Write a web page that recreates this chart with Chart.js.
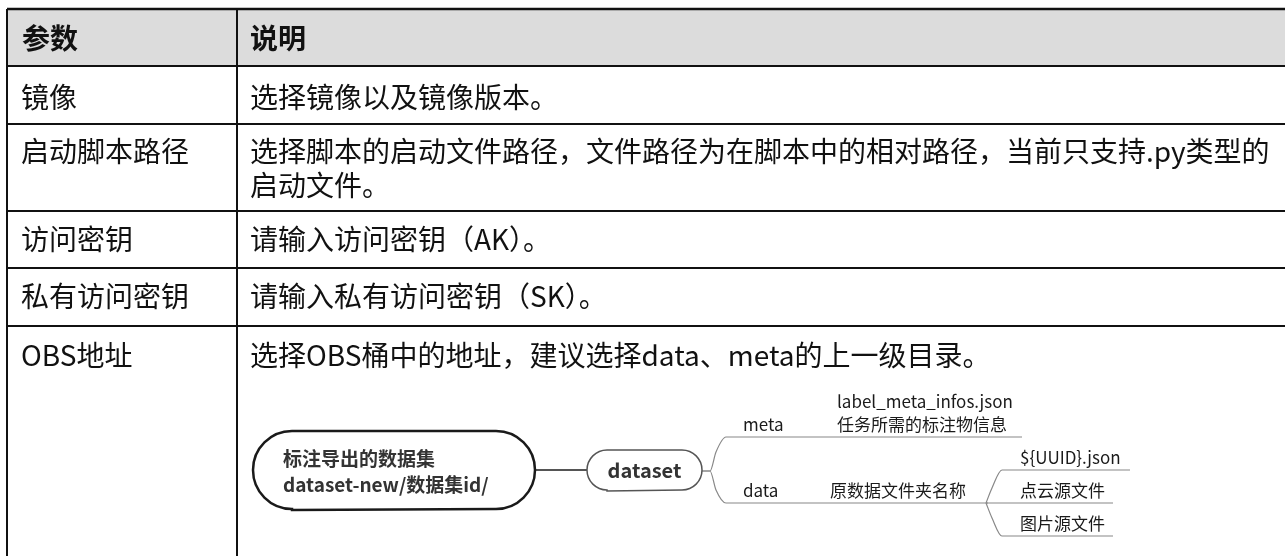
<!DOCTYPE html>
<html>
<head>
<meta charset="utf-8">
<script src="https://cdn.jsdelivr.net/npm/chart.js@4"></script>
<style>
  html, body { margin: 0; padding: 0; background: #fff; }
  canvas { display: block; }
</style>
</head>
<body>
<canvas id="table-chart" width="1285" height="556"></canvas>
<script>
// Table content
const headers = ['参数', '说明']
const params = ['镜像', '启动脚本路径', '访问密钥', '私有访问密钥', 'OBS地址']
const descriptions = [
    ['选择镜像以及镜像版本。'],
    ['选择脚本的启动文件路径，文件路径为在脚本中的相对路径，当前只支持.py类型的', '启动文件。'],
    ['请输入访问密钥（AK）。'],
    ['请输入私有访问密钥（SK）。'],
    ['选择OBS桶中的地址，建议选择data、meta的上一级目录。']
]

// Mind map content in the OBS row
const rootNode = ['标注导出的数据集', 'dataset-new/数据集id/']
const childNode = 'dataset'
const branches = ['meta', 'data']
const metaLeaf = ['label_meta_infos.json', '任务所需的标注物信息']
const dataFolder = '原数据文件夹名称'
const dataLeaves = ['${UUID}.json', '点云源文件', '图片源文件']

// layout (in chart units = pixels)
const rowEdges = [9, 66, 124, 211, 268, 326, 556]
const colEdges = [7, 237, 1285]

// grid lines become line datasets
let gridSets = []
rowEdges.slice(0, 6).forEach(function(y, i) {
    gridSets.push({
        data: [{x: colEdges[0], y: y}, {x: colEdges[2], y: y}],
        borderColor: '#111', borderWidth: i === 0 ? 2.5 : 2
    })
})
colEdges.slice(0, 2).forEach(function(x) {
    gridSets.push({
        data: [{x: x, y: rowEdges[0]}, {x: x, y: 556}],
        borderColor: '#111', borderWidth: 2
    })
})

// connectors of the mind map
let linkSets = [
    {data: [{x: 535, y: 470}, {x: 587, y: 470}], borderColor: '#555', borderWidth: 2},
    {data: [{x: 702, y: 471}, {x: 710, y: 471}, {x: 716, y: 452}, {x: 726, y: 437}, {x: 1022, y: 437}], borderColor: '#888', borderWidth: 1.2},
    {data: [{x: 702, y: 471}, {x: 710, y: 471}, {x: 716, y: 490}, {x: 726, y: 503}, {x: 988, y: 503}], borderColor: '#888', borderWidth: 1.2},
    {data: [{x: 986, y: 503}, {x: 992, y: 488}, {x: 1002, y: 470}, {x: 1130, y: 470}], borderColor: '#888', borderWidth: 1.2},
    {data: [{x: 986, y: 503}, {x: 1113, y: 503}], borderColor: '#888', borderWidth: 1.2},
    {data: [{x: 986, y: 503}, {x: 992, y: 518}, {x: 1002, y: 536}, {x: 1113, y: 536}], borderColor: '#888', borderWidth: 1.2}
]

const FONT = '"Noto Sans CJK SC", "Noto Sans", sans-serif'

function roundRect(ctx, x, y, w, h, r) {
    ctx.beginPath()
    ctx.moveTo(x + r, y)
    ctx.lineTo(x + w - r, y)
    ctx.arc(x + w - r, y + r, r, -Math.PI / 2, Math.PI / 2)
    ctx.lineTo(x + r, y + h)
    ctx.arc(x + r, y + r, r, Math.PI / 2, Math.PI * 1.5)
    ctx.closePath()
}

const tablePlugin = {
    id: 'tablePlugin',
    beforeDatasetsDraw(chart) {
        let ctx = chart.ctx
        let sx = chart.scales.x, sy = chart.scales.y
        ctx.save()
        ctx.fillStyle = '#dcdcdc'
        let x0 = sx.getPixelForValue(colEdges[0]), x1 = sx.getPixelForValue(colEdges[2])
        let y0 = sy.getPixelForValue(rowEdges[0]), y1 = sy.getPixelForValue(rowEdges[1])
        ctx.fillRect(x0, y0, x1 - x0, y1 - y0)
        ctx.restore()
    },
    afterDatasetsDraw(chart) {
        let ctx = chart.ctx
        let sx = chart.scales.x, sy = chart.scales.y
        let px = v => sx.getPixelForValue(v)
        let py = v => sy.getPixelForValue(v)
        ctx.save()
        ctx.textBaseline = 'middle'
        ctx.fillStyle = '#111'

        // header
        ctx.font = 'bold 28px ' + FONT
        ctx.fillText(headers[0], px(22), py(38))
        ctx.fillText(headers[1], px(250), py(38))

        // body rows
        ctx.font = '28px ' + FONT
        let textY = [97, 151, 239, 296, 355]
        params.forEach(function(p, i) {
            ctx.fillText(p, px(21), py(textY[i]))
            descriptions[i].forEach(function(line, j) {
                ctx.fillText(line, px(250), py(textY[i] + j * 34))
            })
        })

        // root pill
        ctx.lineWidth = 2.5
        ctx.strokeStyle = '#1a1a1a'
        ctx.fillStyle = '#fff'
        roundRect(ctx, px(253), py(431), px(535) - px(253), py(510) - py(431), 39)
        ctx.fill()
        ctx.stroke()
        ctx.fillStyle = '#333'
        ctx.font = 'bold 19px ' + FONT
        ctx.fillText(rootNode[0], px(283), py(459))
        ctx.fillText(rootNode[1], px(283), py(485))

        // child pill
        ctx.lineWidth = 1.5
        ctx.strokeStyle = '#555'
        ctx.fillStyle = '#fff'
        roundRect(ctx, px(587), py(450), px(702) - px(587), py(491) - py(450), 20)
        ctx.fill()
        ctx.stroke()
        ctx.fillStyle = '#333'
        ctx.font = 'bold 20px ' + FONT
        ctx.textAlign = 'center'
        ctx.fillText(childNode, px(644.5), py(470))
        ctx.textAlign = 'left'

        // branch labels
        ctx.fillStyle = '#1a1a1a'
        ctx.font = '17px ' + FONT
        ctx.fillText(branches[0], px(743), py(425))
        ctx.fillText(branches[1], px(743), py(491))
        ctx.fillText(metaLeaf[0], px(837), py(402))
        ctx.fillText(metaLeaf[1], px(837), py(425))
        ctx.fillText(dataFolder, px(830), py(491))
        ctx.fillText(dataLeaves[0], px(1020), py(458))
        ctx.fillText(dataLeaves[1], px(1020), py(491))
        ctx.fillText(dataLeaves[2], px(1020), py(524))
        ctx.restore()
    }
}

let chartCanvas = document.querySelector('#table-chart')
let ctx = chartCanvas.getContext('2d')

let tableChart = new Chart(ctx, {
    type: 'scatter',
    data: {
        datasets: gridSets.concat(linkSets).map(function(d) {
            return Object.assign({
                showLine: true,
                pointRadius: 0,
                cubicInterpolationMode: 'monotone'
            }, d)
        })
    },
    options: {
        responsive: false,
        animation: false,
        layout: {padding: 0},
        plugins: {legend: {display: false}, tooltip: {enabled: false}},
        scales: {
            x: {type: 'linear', min: 0, max: 1285, display: false},
            y: {type: 'linear', min: 0, max: 556, reverse: true, display: false}
        }
    },
    plugins: [tablePlugin]
})
</script>
</body>
</html>
